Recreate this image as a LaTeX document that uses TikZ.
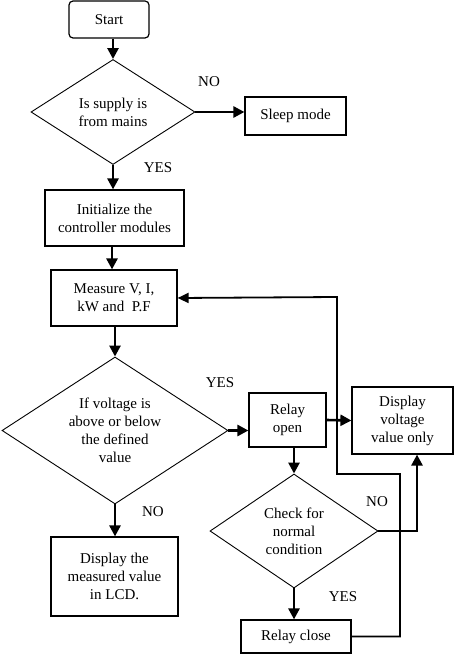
\documentclass[tikz,border=0pt]{standalone}
\usepackage{fontspec}
\setmainfont{Liberation Serif}
\usepackage{tikz}
\usetikzlibrary{arrows.meta,positioning,shapes.geometric}

\begin{document}
\begin{tikzpicture}[x=1pt, y=1pt,
  txt/.style={font=\fontsize{15}{18}\selectfont},
  box/.style={txt, draw, line width=1.2pt, align=center, inner sep=2pt},
  dec/.style={txt, draw, diamond, line width=0.9pt, align=center, inner sep=0pt, shape aspect=1.5},
  lbl/.style={txt, inner sep=0pt},
  arr/.style={-{Triangle[length=11pt, width=11pt]}, line width=2.6pt},
  back/.style={-{Triangle[length=11pt, width=10pt]}, line width=1.8pt}
]
\useasboundingbox (0,0) rectangle (454,-655);

\node[box, rounded corners=4pt, minimum width=80pt, minimum height=37pt] at (109,-19.5) (start) {Start};
\node[dec, minimum width=164pt, minimum height=105pt] at (113,-112) (supply) {Is supply is\\from mains};
\node[box, minimum width=101pt, minimum height=38pt] at (295.5,-116) (sleep) {Sleep mode};
\node[box, minimum width=139pt, minimum height=56pt] at (114.5,-218) (init) {Initialize the\\controller modules};
\node[box, minimum width=126pt, minimum height=56pt] at (114,-298) (measure) {Measure V, I,\\kW and~ P.F};
\node[dec, minimum width=226pt, minimum height=147pt] at (115,-430.5) (volt) {If voltage is\\above or below\\the defined\\value};
\node[box, minimum width=77pt, minimum height=54pt] at (287.5,-420) (ropen) {Relay\\open};
\node[box, minimum width=101pt, minimum height=67pt] at (402.5,-420.5) (dispvolt) {Display\\voltage\\value only};
\node[dec, minimum width=168pt, minimum height=114pt] at (294,-531) (check) {Check for\\normal\\condition};
\node[box, minimum width=110pt, minimum height=33pt] at (296,-636.5) (rclose) {Relay close};
\node[box, minimum width=127pt, minimum height=79pt] at (114.5,-576.5) (dispmeas) {Display the\\measured value\\in LCD.};

\node[lbl] at (209,-82) (no1) {NO};
\node[lbl] at (158,-168) (yes1) {YES};
\node[lbl] at (220,-383) (yes2) {YES};
\node[lbl] at (153,-512) (no2) {NO};
\node[lbl] at (377,-502) (no3) {NO};
\node[lbl] at (343,-597) (yes3) {YES};

\coordinate (nocorner) at (417,-531);
\coordinate (fbA) at (400,-474);
\coordinate (fbB) at (337,-297);

\draw[arr] (supply.north |- start.south) -- (supply.north);
\draw[arr] (supply.east) -- (supply.east -| sleep.west);
\draw[arr] (supply.south) -- (supply.south |- init.north);
\draw[arr] (init.south -| 112,0) -- (measure.north -| 112,0);
\draw[arr] (volt.north |- measure.south) -- (volt.north);
\draw[arr] (volt.east) -- (volt.east -| ropen.west);
\draw[arr] (ropen.east) -- (dispvolt.west);
\draw[arr] (check.north |- ropen.south) -- (check.north);
\draw[arr] (check.south) -- (check.south |- rclose.north);
\draw[arr] (volt.south) -- (volt.south |- dispmeas.north);
\draw[arr] (check.east) -- (nocorner) -- (nocorner |- dispvolt.south);
\draw[back] (rclose.east) -| (fbA) -| (fbB) -- (measure.east);
\end{tikzpicture}
\end{document}
